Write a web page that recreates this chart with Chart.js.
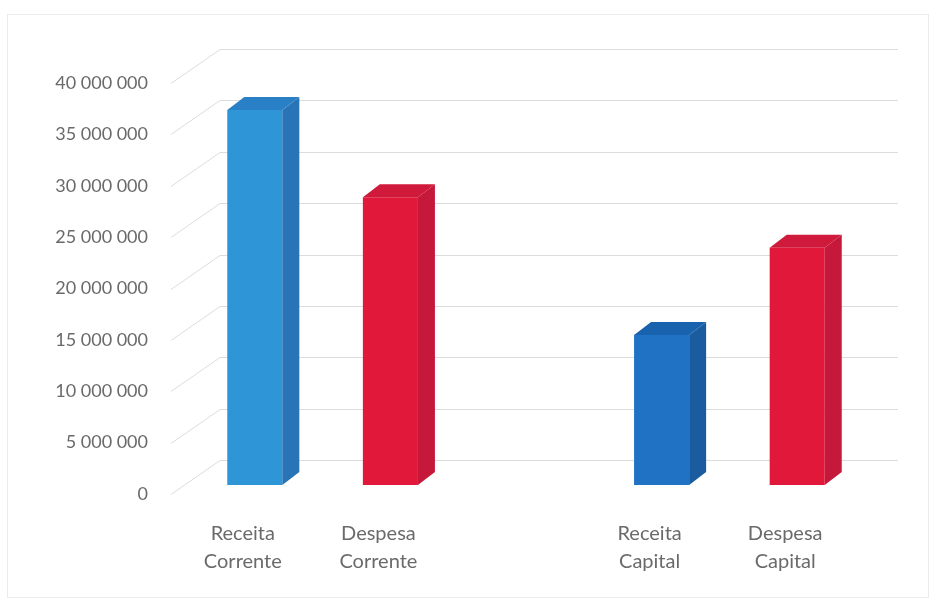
<!DOCTYPE html>
<html lang="pt">
<head>
<meta charset="utf-8">
<title>Receitas e Despesas</title>
<script src="https://cdn.jsdelivr.net/npm/chart.js@4.4.1/dist/chart.umd.min.js"></script>
<style>
  html, body { margin: 0; padding: 0; background: #fff; }
  #wrap { position: relative; width: 931px; height: 601px; }
  #frame {
    position: absolute; left: 7px; top: 14px; width: 922px; height: 584px;
    border: 1px solid #ececec; box-sizing: border-box; pointer-events: none;
  }
</style>
</head>
<body>
<div id="wrap">
  <canvas id="chart" width="931" height="601"></canvas>
  <div id="frame"></div>
</div>
<script>
// categories (the empty one keeps the gap between the two groups)
const categories = [
  ["Receita", "Corrente"],
  ["Despesa", "Corrente"],
  "",
  ["Receita", "Capital"],
  ["Despesa", "Capital"]
];
const values = [36500000, 28000000, null, 14600000, 23100000];
const yTicks = [0, 5000000, 10000000, 15000000, 20000000, 25000000, 30000000, 35000000, 40000000];

// face colours per bar: front / right side / top
const frontColors = ["#2e95d7", "#e2183a", "#ffffff", "#1f72c4", "#e2183a"];
const sideColors  = ["#2874b6", "#c5183a", "#ffffff", "#1a5c9e", "#c5183a"];
const topColors   = ["#2a80c6", "#d01a3b", "#ffffff", "#1963ae", "#d01a3b"];

// oblique projection: full depth of the plot box, and where the bars sit in it
const DEPTH = { dx: 45, dy: -34 };
const BAR_FRONT = { dx: 12, dy: -9 };
const BAR_DEPTH = { dx: 17, dy: -13 };

function fmt(v) {
  return String(v).replace(/\B(?=(\d{3})+(?!\d))/g, " ");
}

const walls3d = {
  id: "walls3d",
  beforeDatasetsDraw(chart) {
    const { ctx, chartArea, scales } = chart;
    const y = scales.y;
    ctx.save();
    ctx.strokeStyle = "#dcdcdc";
    ctx.lineWidth = 1;
    yTicks.forEach(v => {
      const py = Math.round(y.getPixelForValue(v)) + 0.5;
      ctx.beginPath();
      ctx.moveTo(chartArea.left - 4, py);
      ctx.lineTo(chartArea.left + DEPTH.dx, py + DEPTH.dy);
      ctx.lineTo(chartArea.right + DEPTH.dx, py + DEPTH.dy);
      ctx.stroke();
    });
    ctx.restore();
    // front faces are drawn by Chart.js, shifted into the box
    ctx.save();
    ctx.translate(BAR_FRONT.dx, BAR_FRONT.dy);
  },
  afterDatasetsDraw(chart) {
    const { ctx } = chart;
    ctx.restore();
    const meta = chart.getDatasetMeta(0);
    ctx.save();
    meta.data.forEach((bar, i) => {
      if (values[i] == null) return;
      const { x, y, base, width } = bar.getProps(["x", "y", "base", "width"], true);
      const l = x - width / 2 + BAR_FRONT.dx;
      const r = x + width / 2 + BAR_FRONT.dx;
      const t = y + BAR_FRONT.dy;
      const b = base + BAR_FRONT.dy;
      // right side
      ctx.fillStyle = sideColors[i];
      ctx.beginPath();
      ctx.moveTo(r, t);
      ctx.lineTo(r + BAR_DEPTH.dx, t + BAR_DEPTH.dy);
      ctx.lineTo(r + BAR_DEPTH.dx, b + BAR_DEPTH.dy);
      ctx.lineTo(r, b);
      ctx.closePath();
      ctx.fill();
      // top
      ctx.fillStyle = topColors[i];
      ctx.beginPath();
      ctx.moveTo(l, t);
      ctx.lineTo(l + BAR_DEPTH.dx, t + BAR_DEPTH.dy);
      ctx.lineTo(r + BAR_DEPTH.dx, t + BAR_DEPTH.dy);
      ctx.lineTo(r, t);
      ctx.closePath();
      ctx.fill();
    });
    ctx.restore();
  }
};

new Chart(document.getElementById("chart"), {
  type: "bar",
  data: {
    labels: categories,
    datasets: [{
      data: values,
      backgroundColor: frontColors,
      borderWidth: 0,
      categoryPercentage: 1,
      barPercentage: 0.406
    }]
  },
  options: {
    responsive: false,
    animation: false,
    layout: { padding: { top: 83, right: 78, bottom: 0, left: 0 } },
    plugins: {
      legend: { display: false },
      tooltip: { enabled: false }
    },
    scales: {
      x: {
        grid: { display: false, drawTicks: false },
        border: { display: false },
        ticks: {
          color: "#6a6a6a",
          font: { family: "Lato", size: 20, lineHeight: 1.4 },
          padding: 26,
          maxRotation: 0,
          autoSkip: false
        },
        afterFit(scale) { scale.height = 107; }
      },
      y: {
        min: 0,
        max: 40000000,
        grid: { display: false, drawTicks: false },
        border: { display: false },
        afterBuildTicks(scale) { scale.ticks = yTicks.map(v => ({ value: v })); },
        ticks: {
          color: "#6a6a6a",
          font: { family: "Lato", size: 18 },
          padding: 27,
          callback: v => fmt(v)
        },
        afterFit(scale) { scale.width = 175; }
      }
    }
  },
  plugins: [walls3d]
});
</script>
</body>
</html>
